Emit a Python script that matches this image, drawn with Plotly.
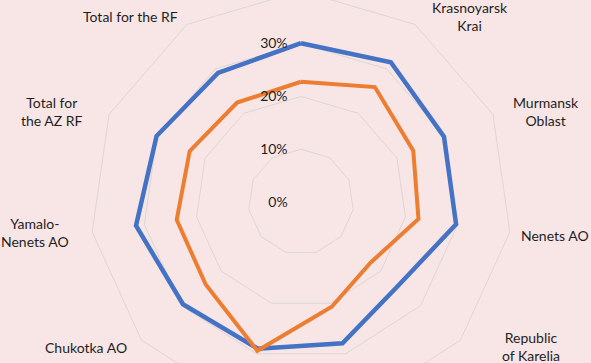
import plotly.graph_objects as go

# Data (percent)
categories = ["Republic of Sakha (Yakutia)", "Krasnoyarsk Krai", "Murmansk Oblast", "Nenets AO",
              "Republic of Karelia", "Komi Republic", "Arkhangelsk Oblast", "Chukotka AO",
              "Yamalo-Nenets AO", "Total for the AZ RF", "Total for the RF"]
label_text = ["", "Krasnoyarsk<br>Krai", "Murmansk<br>Oblast", "Nenets AO",
              "Republic<br>of Karelia", "", "", "Chukotka AO",
              "Yamalo-<br>Nenets AO", "Total for<br>the AZ RF", "Total for the RF"]
series_a = [30.1, 31.5, 29.8, 29.7, 24.3, 27.9, 29.0, 29.6, 31.6, 30.1, 29.1]
series_b = [22.8, 25.9, 23.4, 22.5, 17.5, 20.7, 29.4, 23.9, 23.8, 23.2, 22.4]
radial_ticks = [0, 10, 20, 30]
radial_text = ["0%", "10%", "20%", "30%"]

# layout geometry (pixels in the visible window)
W, H = 591, 470
SHIFT = 30          # the reference chart is cropped at the top
cx, cy, R = 301, 202, 211
# label block centres (visible-window pixels); None = outside the visible crop
label_pos = [None, (470, 17), (546, 111), (555, 235), (531, 346), None, None,
             (86, 347), (35, 232), (52, 111), (130, 17)]

theta = categories + [categories[0]]
fig = go.Figure()
fig.add_trace(go.Scatterpolar(r=series_a + [series_a[0]], theta=theta, mode="lines",
                              line=dict(color="#4472C4", width=4.5), name="Series 1"))
fig.add_trace(go.Scatterpolar(r=series_b + [series_b[0]], theta=theta, mode="lines",
                              line=dict(color="#ED7D31", width=4), name="Series 2"))

for txt, pos in zip(label_text, label_pos):
    if pos is None or not txt:
        continue
    x, y = pos
    fig.add_annotation(text=txt, x=x / W, y=1 - (y + SHIFT) / H, xref="paper", yref="paper",
                       xanchor="center", yanchor="middle", align="center", showarrow=False,
                       font=dict(size=14, color="#1e1e1e"))

grid = "#dcd6d6"
fig.update_layout(
    width=W, height=H, autosize=False,
    margin=dict(l=0, r=0, t=0, b=0),
    paper_bgcolor="#f8e6e6", plot_bgcolor="#f8e6e6",
    showlegend=False,
    font=dict(family="Lato, Open Sans, sans-serif", size=14, color="#1e1e1e"),
    polar=dict(
        bgcolor="#f8e6e6",
        gridshape="linear",
        domain=dict(x=[(cx - R) / W, (cx + R) / W],
                    y=[(H - cy - SHIFT - R) / H, (H - cy - SHIFT + R) / H]),
        radialaxis=dict(range=[0, 40], tickvals=radial_ticks, ticktext=radial_text, angle=90,
                        tickangle=90, side="counterclockwise", showline=False,
                        ticks="outside", ticklen=8, tickcolor="rgba(0,0,0,0)",
                        gridcolor=grid, gridwidth=1, tickfont=dict(size=14)),
        angularaxis=dict(rotation=90, direction="clockwise", showgrid=False,
                         showline=True, linecolor=grid, linewidth=1, ticks="",
                         showticklabels=False),
    ),
)

post = ("document.body.style.margin='0';document.body.style.overflow='hidden';"
        "document.getElementById('{plot_id}').style.marginTop='-%dpx';" % SHIFT)
fig.write_html("out.html", post_script=post)
